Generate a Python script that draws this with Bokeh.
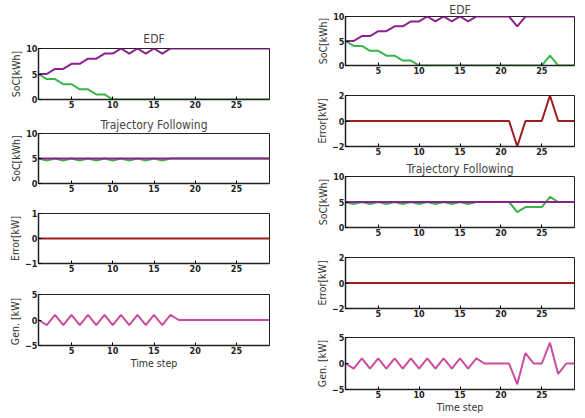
from bokeh.plotting import figure
from bokeh.layouts import column, row
from bokeh.models import FixedTicker, Range1d
from bokeh.embed import file_html
from bokeh.resources import INLINE

# ---------------- data ----------------
steps = list(range(1, 30))

# left case (no disturbance)
L_edf_soc1 = [5, 5, 6, 6, 7, 7, 8, 8, 9, 9, 10, 9, 10, 9, 10, 9, 10] + [10] * 12
L_edf_soc2 = [5, 4, 4, 3, 3, 2, 2, 1, 1, 0] + [0] * 19
L_tf_soc1 = [5] * 29
L_tf_soc2 = [5, 4.6, 5, 4.6, 5, 4.6, 5, 4.6, 5, 4.6, 5, 4.6, 5, 4.6, 5, 4.6, 5] + [5] * 12
L_error = [0] * 29
L_gen = [0, -1, 1, -1, 1, -1, 1, -1, 1, -1, 1, -1, 1, -1, 1, -1, 1] + [0] * 12

# right case (with disturbance)
R_edf_soc1 = [5, 5, 6, 6, 7, 7, 8, 8, 9, 9, 10, 9, 10, 9, 10, 9, 10,
              10, 10, 10, 10, 8, 10, 10, 10, 10, 10, 10, 10]
R_edf_soc2 = [5, 4, 4, 3, 3, 2, 2, 1, 1, 0, 0, 0, 0, 0, 0, 0, 0,
              0, 0, 0, 0, 0, 0, 0, 0, 2, 0, 0, 0]
R_edf_error = [0] * 21 + [-2, 0, 0, 0, 2, 0, 0, 0]
R_tf_soc1 = [5] * 29
R_tf_soc2 = [5, 4.6, 5, 4.6, 5, 4.6, 5, 4.6, 5, 4.6, 5, 4.6, 5, 4.6, 5, 4.6, 5,
             5, 5, 5, 5, 3, 4, 4, 4, 6, 5, 5, 5]
R_tf_error = [0] * 29
R_gen = [0, -1, 1, -1, 1, -1, 1, -1, 1, -1, 1, -1, 1, -1, 1, -1, 1,
         0, 0, 0, 0, -4, 2, 0, 0, 4, -2, 0, 0]

x_ticks = [5, 10, 15, 20, 25]

PURPLE = "#8e2090"
GREEN = "#3bb44a"
DARKRED = "#9e1b20"
PINK = "#cc4c9e"
FONT = "DejaVu Sans Condensed"


def make_fig(width, height, ml, mr, mt, mb, yr, yticks, ylabel,
             title=None, xlabel=None, title_gap=0):
    p = figure(width=width, height=height, output_backend="svg",
               toolbar_location=None, x_range=Range1d(1, 29),
               y_range=Range1d(*yr), min_border_left=ml, min_border_right=mr,
               min_border_top=mt, min_border_bottom=mb,
               background_fill_color="white", border_fill_color="white")
    p.grid.visible = False
    p.outline_line_color = "#222222"
    p.outline_line_width = 1
    if title:
        p.title.text = title
        p.title.align = "center"
        p.title.text_font = FONT
        p.title.text_font_size = "12px"
        p.title.text_font_style = "normal"
        p.title.standoff = title_gap
        p.title.offset = 0
    for ax in (p.xaxis[0], p.yaxis[0]):
        ax.major_tick_in = 3
        ax.major_tick_out = 0
        ax.minor_tick_line_color = None
        ax.axis_line_color = "#222222"
        ax.axis_line_width = 1.5
        ax.major_label_text_font = FONT
        ax.major_label_text_font_size = "9px"
        ax.major_label_text_font_style = "bold"
        ax.major_label_text_color = "#222222"
        ax.major_label_standoff = 1
        ax.axis_label_text_font = FONT
        ax.axis_label_text_font_size = "10.5px"
        ax.axis_label_text_font_style = "normal"
        ax.axis_label_text_color = "#333333"
        ax.axis_label_standoff = 1
    p.xaxis[0].axis_label_standoff = 0
    p.xaxis[0].ticker = FixedTicker(ticks=x_ticks)
    p.yaxis[0].ticker = FixedTicker(ticks=yticks)
    p.yaxis[0].major_label_overrides = {t: ("\u2212" + str(-t) if t < 0 else str(t)) for t in yticks}
    p.yaxis[0].axis_label = ylabel
    if xlabel:
        p.xaxis[0].axis_label = xlabel
    return p


def line(p, ys, color):
    p.line(steps, ys, line_color=color, line_width=2)


LW, RW = 313, 264
LML, LMR = 38, 44
RML, RMR = 30, 3

# ---------------- left column ----------------
l1 = make_fig(LW, 48 + 51 + 14, LML, LMR, 48, 14, (0, 10), [0, 5, 10], "SoC[kWh]",
              title="EDF", title_gap=5)
line(l1, L_edf_soc1, PURPLE)
line(l1, L_edf_soc2, GREEN)

l2 = make_fig(LW, 20 + 50 + 15, LML, LMR, 20, 15, (0, 10), [0, 5, 10], "SoC[kWh]",
              title="Trajectory Following", title_gap=4)
line(l2, L_tf_soc2, GREEN)
line(l2, L_tf_soc1, PURPLE)

l3 = make_fig(LW, 15 + 50 + 15, LML, LMR, 15, 15, (-1, 1), [-1, 0, 1], "Error[kW]")
line(l3, L_error, DARKRED)

l4 = make_fig(LW, 16 + 51 + 28, LML, LMR, 16, 28, (-5, 5), [-5, 0, 5], "Gen.  [kW]", xlabel="Time step")
line(l4, L_gen, PINK)

left = column(l1, l2, l3, l4, spacing=0)

# ---------------- right column ----------------
r1 = make_fig(RW, 14 + 51 + 14, RML, RMR, 14, 14, (0, 10), [0, 5, 10], "SoC[kWh]",
              title="EDF", title_gap=0)
line(r1, R_edf_soc1, PURPLE)
line(r1, R_edf_soc2, GREEN)

r2 = make_fig(RW, 16 + 51 + 12, RML, RMR, 16, 12, (-2, 2), [-2, 0, 2], "Error[kW]")
line(r2, R_edf_error, DARKRED)

r3 = make_fig(RW, 17 + 52 + 14, RML, RMR, 17, 14, (0, 10), [0, 5, 10], "SoC[kWh]",
              title="Trajectory Following", title_gap=2)
line(r3, R_tf_soc2, GREEN)
line(r3, R_tf_soc1, PURPLE)

r4 = make_fig(RW, 16 + 51 + 13, RML, RMR, 16, 13, (-2, 2), [-2, 0, 2], "Error[kW]")
line(r4, R_tf_error, DARKRED)

r5 = make_fig(RW, 16 + 52 + 28, RML, RMR, 16, 28, (-5, 5), [-5, 0, 5], "Gen. [kW]", xlabel="Time step")
line(r5, R_gen, PINK)

right = column(r1, r2, r3, r4, r5, spacing=0)

root = row(left, right, spacing=0)

open("out.html", "w").write(file_html(root, INLINE))
